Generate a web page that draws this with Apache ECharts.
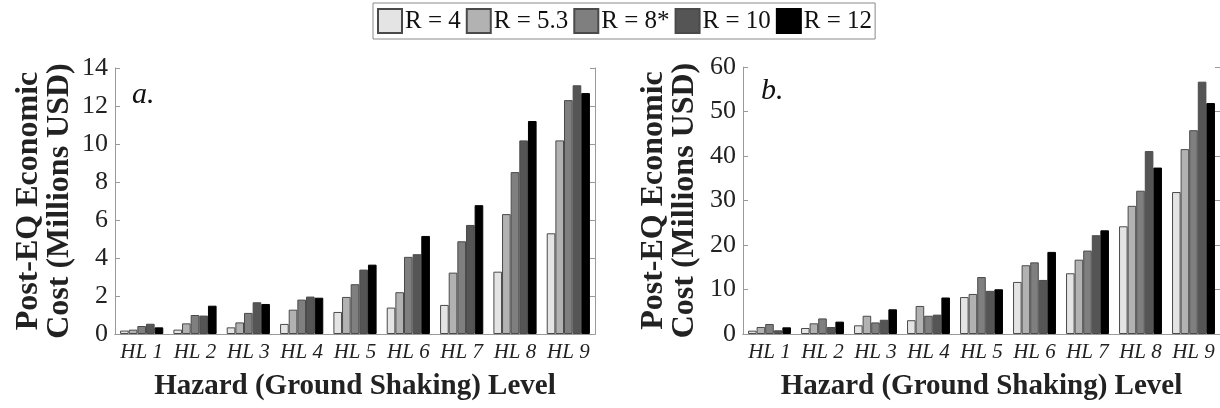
<!DOCTYPE html>
<html>
<head>
<meta charset="utf-8">
<script src="https://cdn.jsdelivr.net/npm/echarts@6/dist/echarts.min.js"></script>
<style>
html,body{margin:0;padding:0;background:#fff;}
#c{width:1220px;height:408px;}
</style>
</head>
<body>
<div id="c"></div>
<script>
const categories = ['HL 1','HL 2','HL 3','HL 4','HL 5','HL 6','HL 7','HL 8','HL 9'];
const seriesNames = ['R = 4','R = 5.3','R = 8*','R = 10','R = 12'];
const seriesColors = ['#e4e4e4','#b2b2b2','#7f7f7f','#555555','#000000'];

// Panel a (Millions USD)
const a_R4   = [0.18, 0.23, 0.35, 0.53, 1.16, 1.39, 1.53, 3.28, 5.30];
const a_R53  = [0.23, 0.56, 0.61, 1.28, 1.95, 2.20, 3.23, 6.31, 10.19];
const a_R8   = [0.42, 1.00, 1.11, 1.81, 2.62, 4.06, 4.88, 8.52, 12.31];
const a_R10  = [0.54, 0.97, 1.67, 1.97, 3.39, 4.20, 5.74, 10.19, 13.09];
const a_R12  = [0.35, 1.49, 1.58, 1.91, 3.65, 5.16, 6.78, 11.21, 12.68];

// Panel b (Millions USD)
const b_R4   = [0.75, 1.35, 1.95, 3.10, 8.30, 11.70, 13.65, 24.20, 31.90];
const b_R53  = [1.58, 2.40, 4.10, 6.30, 9.00, 15.45, 16.70, 28.80, 41.55];
const b_R8   = [2.25, 3.50, 2.60, 4.10, 12.80, 16.10, 18.75, 32.20, 45.80];
const b_R10  = [0.83, 1.58, 3.20, 4.35, 9.70, 12.15, 22.20, 41.10, 56.70];
const b_R12  = [1.50, 2.78, 5.55, 8.20, 10.05, 18.45, 23.30, 37.40, 51.90];

const panelA = [a_R4, a_R53, a_R8, a_R10, a_R12];
const panelB = [b_R4, b_R53, b_R8, b_R10, b_R12];

const yTicksA = {min: 0, max: 14, interval: 2};
const yTicksB = {min: 0, max: 60, interval: 10};

const yTitle = 'Post-EQ Economic\nCost (Millions USD)';
const xTitle = 'Hazard (Ground Shaking) Level';

const FONT = "Liberation Serif";
const AX = '#9a9a9a';

function xAxes(gi){
  return [{
    type:'category', gridIndex:gi, data:categories,
    axisLine:{show:true, lineStyle:{color:AX, width:1}},
    axisTick:{show:false},
    axisLabel:{interval:0, fontFamily:FONT, fontStyle:'italic', fontSize:21, color:'#222', margin:8},
    name:xTitle, nameLocation:'middle', nameGap:38,
    nameTextStyle:{fontFamily:FONT, fontWeight:'bold', fontSize:29, color:'#222'}
  },{
    type:'category', gridIndex:gi, data:categories, position:'top',
    axisLine:{show:true, lineStyle:{color:AX, width:1}},
    axisTick:{show:false}, axisLabel:{show:false}
  }];
}
function yAxes(gi, t, gap){
  return [{
    type:'value', gridIndex:gi, min:t.min, max:t.max, interval:t.interval,
    axisLine:{show:true, lineStyle:{color:AX, width:1}},
    axisTick:{show:true, inside:true, length:5, lineStyle:{color:AX}},
    splitLine:{show:false},
    axisLabel:{fontFamily:FONT, fontSize:26, color:'#222', margin:7},
    name:yTitle, nameLocation:'middle', nameGap:gap, nameRotate:90,
    nameTextStyle:{fontFamily:FONT, fontWeight:'bold', fontSize:32, color:'#222', lineHeight:31}
  },{
    type:'value', gridIndex:gi, min:t.min, max:t.max, interval:t.interval, position:'right',
    axisLine:{show:true, lineStyle:{color:AX, width:1}},
    axisTick:{show:true, inside:true, length:5, lineStyle:{color:AX}},
    splitLine:{show:false}, axisLabel:{show:false}
  }];
}

const series = [];
[panelA, panelB].forEach((panel, p) => {
  panel.forEach((vals, i) => {
    series.push({
      name: seriesNames[i], type:'bar',
      xAxisIndex: p*2, yAxisIndex: p*2,
      data: vals,
      barGap:'0%', barCategoryGap:'19%',
      itemStyle:{color:seriesColors[i], borderColor: i===4 ? '#000' : '#4a4a4a', borderWidth:1},
      emphasis:{disabled:true},
      animation:false
    });
  });
});

const chart = echarts.init(document.getElementById('c'), null, {renderer:'canvas'});
chart.setOption({
  animation:false,
  backgroundColor:'#fff',
  legend:{
    data: seriesNames, left:373, top:3,
    orient:'horizontal', itemWidth:24, itemHeight:24, itemGap:5,
    padding:[5,3,5,4], borderColor:'#8a8a8a', borderWidth:1,
    icon:'rect',
    textStyle:{fontFamily:FONT, fontSize:25, color:'#111', padding:[0,0,0,-2]},
    selectedMode:false
  },
  grid:[
    {left:115, top:68, width:480, height:266, containLabel:false},
    {left:743, top:67, width:480, height:267, containLabel:false}
  ],
  xAxis:[...xAxes(0), ...xAxes(1)],
  yAxis:[...yAxes(0, yTicksA, 40), ...yAxes(1, yTicksB, 43)],
  series: series,
  graphic:[
    {type:'text', left:132, top:80, style:{text:'a.', font:"italic 30px 'Liberation Serif'", fill:'#111'}},
    {type:'text', left:761, top:76, style:{text:'b.', font:"italic 30px 'Liberation Serif'", fill:'#111'}}
  ]
});
</script>
</body>
</html>
